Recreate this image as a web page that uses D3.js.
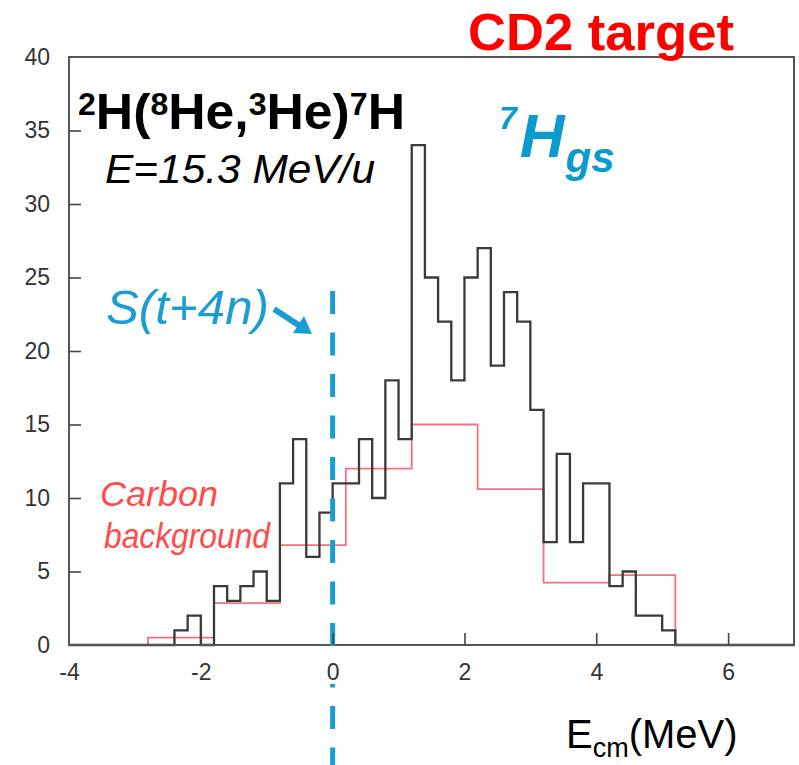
<!DOCTYPE html>
<html>
<head>
<meta charset="utf-8">
<script src="https://cdn.jsdelivr.net/npm/d3@7"></script>
<style>
  html, body { margin: 0; padding: 0; background: #fff; }
  svg { display: block; font-family: "Liberation Sans", Arial, Helvetica, sans-serif; }
</style>
</head>
<body>
<svg id="chart" width="799" height="765"></svg>
<script>
// ---- data ----
const blackStart = -2.4;          // first bin lower edge (MeV)
const blackBinWidth = 0.2;        // MeV
const blackCounts = [1,2,0,4,3,4,5,3,11,14,6,9,11,11,14,10,18,14,34,25,22,18,25,27,19,24,22,16,7,13,7,11,11,4,5,2,2,1];
const redEdges = [-2.8,-1.8,-0.8,0.2,1.2,2.2,3.2,4.2,5.2];
const redCounts = [0.5,2.85,6.8,12,15,10.6,4.25,4.75];
const xDomain = [-4, 7];
const yDomain = [0, 40];
const xTicks = [-4,-2,0,2,4,6];
const yTicks = [0,5,10,15,20,25,30,35,40];
const thresholdE = 0;             // S(t+4n) threshold

// ---- layout ----
const svg = d3.select("#chart");
const mLeft = 69, mRight = 794, mTop = 57, mBottom = 645;
const x = d3.scaleLinear().domain(xDomain).range([mLeft, mRight]);
const y = d3.scaleLinear().domain(yDomain).range([mBottom, mTop]);

function stepPoints(edges, counts) {
  const pts = [[xDomain[0], 0]];
  counts.forEach((c, i) => pts.push([edges[i], c]));
  pts.push([edges[edges.length - 1], 0]);
  pts.push([xDomain[1], 0]);
  return pts;
}
const blackEdges = d3.range(blackCounts.length + 1).map(i => +(blackStart + i * blackBinWidth).toFixed(3));
const line = d3.line().x(d => x(d[0])).y(d => y(d[1])).curve(d3.curveStepAfter);

// red carbon background
svg.append("path")
  .attr("d", line(stepPoints(redEdges, redCounts)))
  .attr("fill", "none").attr("stroke", "#f0737c").attr("stroke-width", 1.8);

// black CD2 histogram
svg.append("path")
  .attr("d", line(stepPoints(blackEdges, blackCounts)))
  .attr("fill", "none").attr("stroke", "#3a3a3a").attr("stroke-width", 2.3);

// frame
svg.append("rect")
  .attr("x", mLeft).attr("y", mTop).attr("width", mRight - mLeft).attr("height", mBottom - mTop)
  .attr("fill", "none").attr("stroke", "#555").attr("stroke-width", 2);

const fmt = d => String(d);

// y axis (inward ticks)
const yAxis = d3.axisLeft(y).tickValues(yTicks).tickFormat(fmt).tickSizeInner(-12).tickSizeOuter(0).tickPadding(19);
const gy = svg.append("g").attr("transform", `translate(${mLeft},0)`).call(yAxis);
gy.select(".domain").remove();
gy.selectAll(".tick line").attr("stroke", "#444").attr("stroke-width", 1.6)
  .filter(d => d === 0 || d === 40).remove();
gy.selectAll(".tick text").attr("font-size", 23).attr("fill", "#333")
  .attr("font-family", "Liberation Sans, Arial, sans-serif");

// x axis (inward ticks)
const xAxis = d3.axisBottom(x).tickValues(xTicks).tickFormat(fmt).tickSizeInner(-12).tickSizeOuter(0).tickPadding(19);
const gx = svg.append("g").attr("transform", `translate(0,${mBottom})`).call(xAxis);
gx.select(".domain").remove();
gx.selectAll(".tick line").attr("stroke", "#444").attr("stroke-width", 1.6)
  .filter(d => d === -4).remove();
gx.selectAll(".tick text").attr("font-size", 23).attr("fill", "#333")
  .attr("font-family", "Liberation Sans, Arial, sans-serif");

// dashed threshold line at E=0
svg.insert("line", "g")
  .attr("x1", x(thresholdE)).attr("x2", x(thresholdE))
  .attr("y1", 291).attr("y2", 765)
  .attr("stroke", "#1a9dd3").attr("stroke-width", 5)
  .attr("stroke-dasharray", "23 18.5");
gx.selectAll(".tick").filter(d => d === 0)
  .insert("rect", "text")
  .attr("x", -8).attr("y", 17).attr("width", 16).attr("height", 22).attr("fill", "#fff");

// ---- texts ----
svg.append("text").attr("x", 468).attr("y", 50)
  .attr("font-size", 52).attr("font-weight", "bold").attr("fill", "#ff0000")
  .attr("textLength", 266).attr("lengthAdjust", "spacingAndGlyphs")
  .text("CD2 target");

const r = svg.append("text").attr("x", 78).attr("y", 129)
  .attr("font-size", 50).attr("font-weight", "bold").attr("fill", "#000");
const parts = [["2", true], ["H(", false], ["8", true], ["He,", false], ["3", true], ["He)", false], ["7", true], ["H", false]];
parts.forEach(([t, sup]) => {
  r.append("tspan")
    .attr("font-size", sup ? 31 : 50)
    .attr("dy", sup ? -14 : 14)
    .text(t);
});
r.select("tspan").attr("dy", -14);
r.attr("textLength", 327).attr("lengthAdjust", "spacingAndGlyphs");

svg.append("text").attr("x", 105).attr("y", 183)
  .attr("font-size", 41).attr("font-style", "italic").attr("fill", "#000")
  .attr("textLength", 270).attr("lengthAdjust", "spacingAndGlyphs")
  .text("E=15.3 MeV/u");

const h = svg.append("text").attr("x", 499).attr("y", 157)
  .attr("font-weight", "bold").attr("font-style", "italic").attr("fill", "#0a9bce");
h.append("tspan").attr("font-size", 32).attr("dy", -28).text("7");
h.append("tspan").attr("font-size", 62).attr("dx", 3).attr("dy", 28).text("H");
h.append("tspan").attr("font-size", 42).attr("dx", 1).attr("dy", 15).text("gs");

svg.append("text").attr("x", 106).attr("y", 324)
  .attr("font-size", 48).attr("font-style", "italic").attr("fill", "#1a9dd3")
  .attr("textLength", 163).attr("lengthAdjust", "spacingAndGlyphs")
  .text("S(t+4n)");
svg.append("line").attr("x1", 274).attr("y1", 309).attr("x2", 300).attr("y2", 326)
  .attr("stroke", "#1a9dd3").attr("stroke-width", 6);
svg.append("polygon").attr("points", "312,334 293,333 304,316").attr("fill", "#1a9dd3");

svg.append("text").attr("x", 100).attr("y", 506)
  .attr("font-size", 35).attr("font-style", "italic").attr("fill", "#ff4b4b")
  .attr("textLength", 118).attr("lengthAdjust", "spacingAndGlyphs")
  .text("Carbon");
svg.append("text").attr("x", 104).attr("y", 548)
  .attr("font-size", 35).attr("font-style", "italic").attr("fill", "#ff4b4b")
  .attr("textLength", 166).attr("lengthAdjust", "spacingAndGlyphs")
  .text("background");

const ax = svg.append("text").attr("x", 566).attr("y", 748)
  .attr("font-size", 40).attr("fill", "#000");
ax.append("tspan").text("E");
ax.append("tspan").attr("font-size", 27).attr("dy", 9).text("cm");
ax.append("tspan").attr("dy", -9).text("(MeV)");
</script>
</body>
</html>
